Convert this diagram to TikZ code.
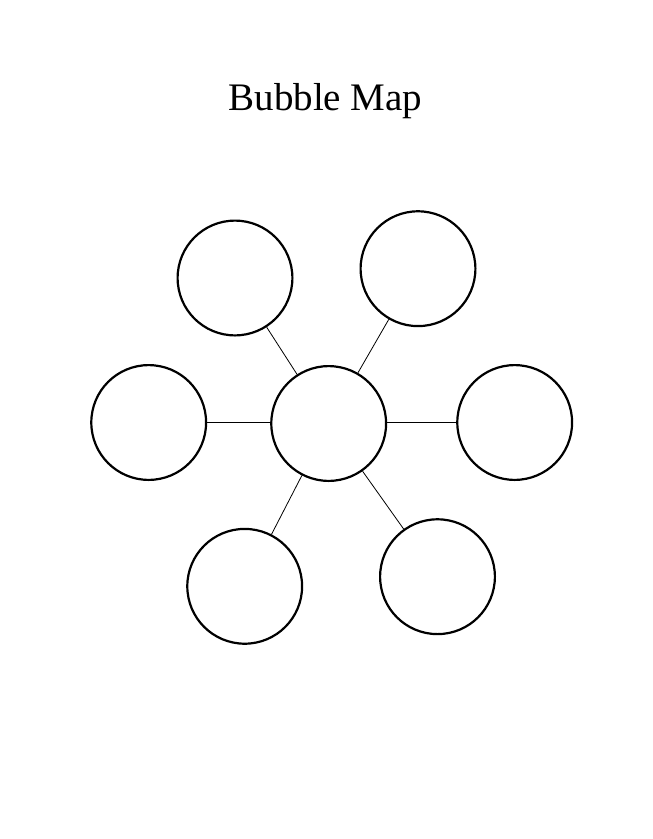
\documentclass[tikz,border=0pt]{standalone}
\usepackage{fontspec}
\setmainfont{Liberation Serif}
\begin{document}
\begin{tikzpicture}[x=1pt,y=-1pt,
  bubble/.style={circle,draw,line width=2.2pt,minimum size=114.8pt,inner sep=0pt},
  link/.style={line width=0.8pt}]
\useasboundingbox (0,0) rectangle (653,839);

\node[anchor=base] (title) at (325.5,110.7) {\fontsize{39}{47}\selectfont Bubble Map};

\node[bubble] (hub) at (328.7,423.5) {};
\node[bubble] (topleft) at (235,278) {};
\node[bubble] (topright) at (418,268.7) {};
\node[bubble] (left) at (148.7,422.5) {};
\node[bubble] (right) at (514.7,422.5) {};
\node[bubble] (bottomleft) at (244.7,586.3) {};
\node[bubble] (bottomright) at (437.5,576.7) {};

\draw[link] (topleft) -- (hub);
\draw[link] (topright) -- (hub);
\draw[link] (left) -- (left -| hub.west);
\draw[link] (right) -- (right -| hub.east);
\draw[link] (bottomleft) -- (hub);
\draw[link] (bottomright) -- (hub);
\end{tikzpicture}
\end{document}
